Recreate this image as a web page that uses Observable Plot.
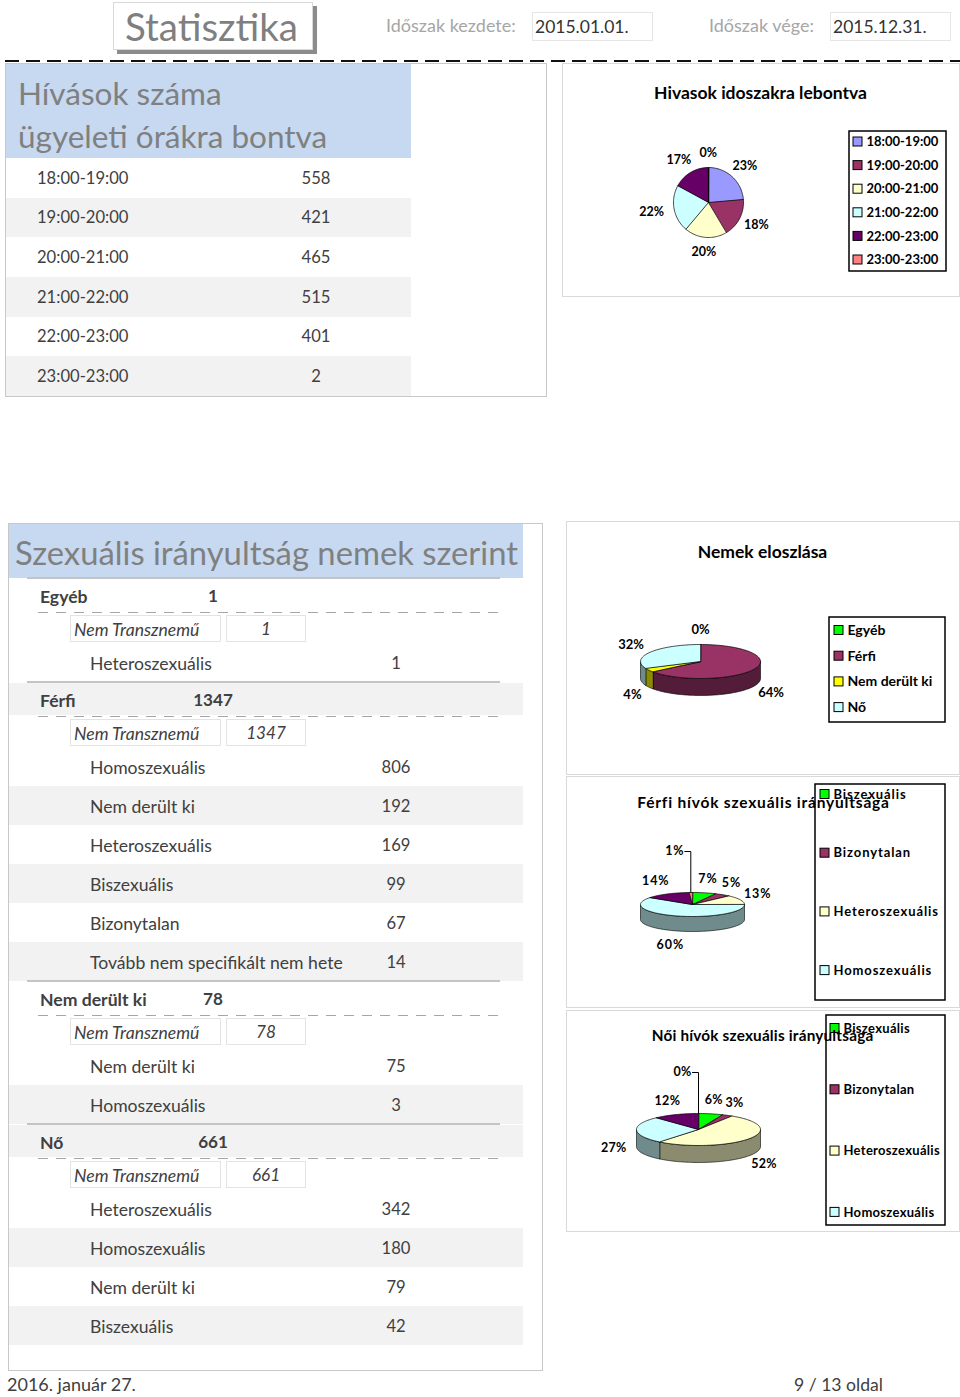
<!DOCTYPE html>
<html><head><meta charset="utf-8">
<script src="https://cdn.jsdelivr.net/npm/d3@7"></script>
<script src="https://cdn.jsdelivr.net/npm/@observablehq/plot@0.6"></script>
<style>
body{margin:0;background:#fff;font-family:Lato,"Open Sans",sans-serif;color:#404040;}
#page{position:relative;width:960px;height:1397px;overflow:hidden;background:#fff;}
</style></head><body><div id="page"></div>
<script>
// ---------------- DATA ----------------
const hourLabels = ["18:00-19:00","19:00-20:00","20:00-21:00","21:00-22:00","22:00-23:00","23:00-23:00"];
const hourCounts = [558,421,465,515,401,2];
const hourPctLabels = ["23%","18%","20%","22%","17%","0%"];
const hourColors = ["#9999ff","#993366","#ffffcc","#ccffff","#660066","#ff8080"];

const genderNames = ["Egyéb","Férfi","Nem derült ki","Nő"];
const genderTotals = [1,1347,78,661];
const genderPctLabels = ["0%","64%","4%","32%"];
const genderColors = ["#00ff00","#993366","#ffff00","#ccffff"];

const subgroupLabel = "Nem Transznemű";
const egyebItems = ["Heteroszexuális"];
const egyebCounts = [1];
const ferfiItems = ["Homoszexuális","Nem derült ki","Heteroszexuális","Biszexuális","Bizonytalan","Tovább nem specifikált nem hete"];
const ferfiCounts = [806,192,169,99,67,14];
const ndkItems = ["Nem derült ki","Homoszexuális"];
const ndkCounts = [75,3];
const noItems = ["Heteroszexuális","Homoszexuális","Nem derült ki","Biszexuális"];
const noCounts = [342,180,79,42];

const orientCats = ["Biszexuális","Bizonytalan","Heteroszexuális","Homoszexuális","Nem derült ki","Tovább nem specifikált"];
const orientColors = ["#00ff00","#993366","#ffffcc","#ccffff","#660066","#ff8080"];
const maleOrient = [99,67,169,806,192,14];
const malePctLabels = ["7%","5%","13%","60%","14%","1%"];
const femaleOrient = [42,18,342,180,79,0];
const femalePctLabels = ["6%","3%","52%","27%","12%","0%"];
const orientLegendCount = 4;

const pageTitle = "Statisztika";
const periodStartLabel = "Időszak kezdete:";
const periodStart = "2015.01.01.";
const periodEndLabel = "Időszak vége:";
const periodEnd = "2015.12.31.";
const footerDate = "2016. január 27.";
const footerPage = "9 / 13 oldal";

// ---------------- HELPERS ----------------
const page = document.getElementById("page");
const LBL = 17.6, NUM = 16.6;
function box(x, y, w, h, css) {
  const d = document.createElement("div");
  d.style.cssText = `position:absolute;left:${x}px;top:${y}px;width:${w}px;height:${h}px;box-sizing:border-box;${css || ""}`;
  page.appendChild(d); return d;
}
function txt(x, cy, s, size, css, anchor) {
  const d = document.createElement("div");
  d.textContent = s;
  const top = cy - 0.6255 * size + 1.5;
  d.style.cssText = `position:absolute;left:${x}px;top:${top}px;font-size:${size}px;line-height:1.2;white-space:nowrap;${css || ""}`;
  if (anchor === "middle") d.style.transform = "translateX(-50%)";
  page.appendChild(d); return d;
}

// ---------------- HEADER ----------------
box(113, 2, 200, 48, "border:1px solid #d9d9d9;background:#fff;box-shadow:4px 4px 0 #8c8c8c;");
txt(125, 26, pageTitle, 38.5, "color:#7f7f7f");
txt(386, 25, periodStartLabel, 18, "color:#a6a6a6");
box(532, 12, 121, 29, "border:1px solid #e6e6e6;");
txt(535, 25, periodStart, 17.5, "color:#333");
txt(709, 25, periodEndLabel, 18, "color:#a6a6a6");
box(830, 12, 121, 29, "border:1px solid #e6e6e6;");
txt(833, 25, periodEnd, 17.5, "color:#333");
{
  const ns = "http://www.w3.org/2000/svg";
  const s = document.createElementNS(ns, "svg");
  s.setAttribute("width", 960); s.setAttribute("height", 10);
  s.style.cssText = "position:absolute;left:0;top:56px;";
  const l = document.createElementNS(ns, "line");
  l.setAttribute("x1", 5); l.setAttribute("x2", 960); l.setAttribute("y1", 5); l.setAttribute("y2", 5);
  l.setAttribute("stroke", "#111"); l.setAttribute("stroke-width", 2); l.setAttribute("stroke-dasharray", "14 7");
  s.appendChild(l); page.appendChild(s);
}

// ---------------- PANEL 1 TABLE ----------------
box(5, 63, 542, 334, "border:1px solid #c8c8c8;");
box(6, 64, 405, 94, "background:#c6d9f1;");
txt(18, 93, "Hívások száma", 31.5, "color:#808080");
txt(18, 136, "ügyeleti órákra bontva", 31.5, "color:#808080");
hourLabels.forEach((lab, i) => {
  const y = 158 + i * 39.67;
  if (i % 2 === 1) box(6, y, 405, 39.67, "background:#f2f2f2;");
  txt(37, y + 19.5, lab, NUM);
  txt(316, y + 19.5, String(hourCounts[i]), NUM, "", "middle");
});

// ---------------- PANEL 2 TABLE ----------------
box(8, 523, 535, 848, "border:1px solid #c8c8c8;");
box(9, 524, 514, 54, "background:#c6d9f1;");
txt(15, 552, "Szexuális irányultság nemek szerint", 32.8, "color:#808080");
const groups = [
  {name: genderNames[0], total: genderTotals[0], items: egyebItems, counts: egyebCounts},
  {name: genderNames[1], total: genderTotals[1], items: ferfiItems, counts: ferfiCounts},
  {name: genderNames[2], total: genderTotals[2], items: ndkItems, counts: ndkCounts},
  {name: genderNames[3], total: genderTotals[3], items: noItems, counts: noCounts}
];
let y0 = 578;
groups.forEach((g, gi) => {
  if (gi % 2 === 1) box(9, y0 + 1, 514, 32, "background:#f2f2f2;");
  box(27, y0 - 1, 473, 2, "background:#c4c4c4;");
  txt(40, y0 + 17.5, g.name, LBL, "font-weight:bold;");
  txt(213, y0 + 17.5, String(g.total), NUM + 0.5, "font-weight:bold;", "middle");
  box(38, y0 + 34, 465, 1, "background:repeating-linear-gradient(to right,#a6a6a6 0 10px,transparent 10px 18px);");
  box(70, y0 + 37, 151, 27, "border:1px solid #e3e3e3;");
  box(226, y0 + 37, 80, 27, "border:1px solid #e3e3e3;");
  txt(74, y0 + 50.5, subgroupLabel, LBL, "font-style:italic;");
  txt(266, y0 + 50.5, String(g.total), NUM + 0.5, "font-style:italic;", "middle");
  g.items.forEach((lab, j) => {
    const ry = y0 + 65 + 39 * j;
    if (j % 2 === 1) box(9, ry, 514, 39, "background:#f2f2f2;");
    txt(90, ry + 19.5, lab, LBL);
    txt(396, ry + 19.5, String(g.counts[j]), NUM, "", "middle");
  });
  y0 += 65 + 39 * g.items.length;
});

// ---------------- FOOTER ----------------
txt(7, 1384, footerDate, 18);
txt(794, 1384, footerPage, 17.6);

// ---------------- PIES ----------------
function piePanel(cfg) {
  const {left, top, w, h, title, titleX, titleY, titleSize, values, colors, labels,
    cx, cy, rx, ry, depth, gap, labelSize, leaderIdx, legendKeys, legendColors,
    legendBox, ly0, lstep, sqX, legendSize, letterSpacing, titleSpacing} = cfg;
  box(left, top, w, h, "border:1px solid #d9d9d9;");
  const arcs = d3.pie().sort(null).value(v => v)(values);
  const P = a => [cx + rx * Math.sin(a), cy - ry * Math.cos(a)];
  const tops = [], walls = [], labs = [], leaders = [];
  arcs.forEach((a, i) => {
    const a0 = a.startAngle, a1 = a.endAngle;
    if (a1 - a0 > 0) {
      const n = Math.max(2, Math.ceil((a1 - a0) / (Math.PI / 90)));
      tops.push({id: i, x: cx, y: cy, c: colors[i]});
      for (let k = 0; k <= n; k++) {
        const [x, y] = P(a0 + (a1 - a0) * k / n);
        tops.push({id: i, x, y, c: colors[i]});
      }
      if (depth > 0) {
        const b0 = Math.max(a0, Math.PI / 2), b1 = Math.min(a1, 3 * Math.PI / 2);
        if (b1 > b0) {
          const m = Math.max(2, Math.ceil((b1 - b0) / (Math.PI / 90)));
          const wc = d3.rgb(colors[i]).darker(1.7).formatHex();
          const pts = [];
          for (let k = 0; k <= m; k++) pts.push(P(b0 + (b1 - b0) * k / m));
          pts.forEach(([x, y]) => walls.push({id: i, x, y, c: wc}));
          pts.slice().reverse().forEach(([x, y]) => walls.push({id: i, x, y: y + depth, c: wc}));
        }
      }
    }
    const mid = (a0 + a1) / 2, s = Math.sin(mid), c = Math.cos(mid);
    if (i === leaderIdx) {
      const [px, py] = P(mid);
      const lx = px - 16, ly = py - 42;
      labs.push({x: lx, y: ly, t: labels[i]});
      leaders.push({x: lx + 10, y: ly + 1}, {x: px, y: ly + 1}, {x: px, y: py});
    } else {
      const hw = labels[i].length * 3.6 + (s < 0 ? 4 : 0), hh = 6.5;
      labs.push({
        x: cx + (rx + gap) * s + hw * s,
        y: cy - (ry + gap) * c - hh * c + (c < 0 ? depth : 0),
        t: labels[i]
      });
    }
  });
  const legend = legendKeys.map((k, i) => ({k, c: legendColors[i], y: ly0 + i * lstep}));
  const [bx1, by1, bx2, by2] = legendBox;
  const plot = Plot.plot({
    width: w, height: h, margin: 0,
    x: {domain: [0, w], range: [0, w], axis: null},
    y: {domain: [0, h], range: [0, h], axis: null},
    color: {type: "identity"},
    style: {fontFamily: "Lato, sans-serif", background: "transparent", overflow: "visible", letterSpacing: letterSpacing || "0px"},
    marks: [
      Plot.rect([legendBox], {x1: () => bx1, x2: () => bx2, y1: () => by1, y2: () => by2, fill: "white", stroke: "black", strokeWidth: 1.5}),
      Plot.line(walls, {x: "x", y: "y", z: "id", fill: "c", stroke: "black", strokeWidth: 0.6, curve: "linear-closed"}),
      Plot.line(tops, {x: "x", y: "y", z: "id", fill: "c", stroke: "black", strokeWidth: 0.7, curve: "linear-closed"}),
      Plot.line(leaders, {x: "x", y: "y", stroke: "black", strokeWidth: 1}),
      Plot.text(labs, {x: "x", y: "y", text: "t", fontSize: labelSize, fontWeight: "bold", fill: "black", lineAnchor: "middle"}),
      Plot.rect(legend, {x1: () => sqX, x2: () => sqX + 9, y1: d => d.y - 4.5, y2: d => d.y + 4.5, fill: "c", stroke: "black", strokeWidth: 1}),
      Plot.text(legend, {x: () => sqX + 13, y: "y", text: "k", textAnchor: "start", lineAnchor: "middle", fontSize: legendSize, fontWeight: "bold", fill: "black"}),
      Plot.text([title], {x: () => titleX, y: () => titleY, text: d => d, fontSize: titleSize, fontWeight: "bold", fill: "black", lineAnchor: "middle"})
    ]
  });
  plot.style.position = "absolute";
  plot.style.left = left + "px";
  plot.style.top = top + "px";
  page.appendChild(plot);
  if (titleSpacing) {
    const t = plot.querySelectorAll("text");
    t[t.length - 1].style.letterSpacing = titleSpacing;
  }
}

piePanel({
  left: 562, top: 63, w: 398, h: 234,
  title: "Hivasok idoszakra lebontva", titleX: 198, titleY: 30, titleSize: 17.5,
  values: hourCounts, colors: hourColors, labels: hourPctLabels,
  cx: 146, cy: 139, rx: 35, ry: 35, depth: 0, gap: 8, labelSize: 12.5, leaderIdx: -1,
  legendKeys: hourLabels, legendColors: hourColors, legendBox: [287, 68, 384, 208],
  ly0: 78.5, lstep: 23.6, sqX: 291, legendSize: 13
});
piePanel({
  left: 566, top: 521, w: 394, h: 254,
  title: "Nemek eloszlása", titleX: 196, titleY: 31, titleSize: 17.5,
  values: genderTotals, colors: genderColors, labels: genderPctLabels,
  cx: 134, cy: 140, rx: 60, ry: 17, depth: 17, gap: 8, labelSize: 13, leaderIdx: -1,
  legendKeys: genderNames, legendColors: genderColors, legendBox: [263, 96, 379, 201],
  ly0: 109, lstep: 25.7, sqX: 268, legendSize: 14
});
piePanel({
  left: 566, top: 776, w: 394, h: 232,
  title: "Férfi hívók szexuális irányultsága", titleX: 197, titleY: 27, titleSize: 15.5,
  values: maleOrient, colors: orientColors, labels: malePctLabels,
  cx: 126, cy: 128, rx: 52, ry: 12, depth: 15, gap: 8, labelSize: 12.5, leaderIdx: 5,
  legendKeys: orientCats.slice(0, orientLegendCount), legendColors: orientColors.slice(0, orientLegendCount),
  legendBox: [249, 8, 379, 224], ly0: 18, lstep: 58.7, sqX: 254, legendSize: 13, letterSpacing: "0.9px", titleSpacing: "0.8px"
});
piePanel({
  left: 566, top: 1010, w: 394, h: 222,
  title: "Női hívók szexuális irányultsága", titleX: 196, titleY: 26, titleSize: 15.3,
  values: femaleOrient, colors: orientColors, labels: femalePctLabels,
  cx: 132, cy: 119, rx: 62, ry: 16, depth: 17, gap: 8, labelSize: 12.5, leaderIdx: 5,
  legendKeys: orientCats.slice(0, orientLegendCount), legendColors: orientColors.slice(0, orientLegendCount),
  legendBox: [260, 5, 379, 215], ly0: 18, lstep: 61.3, sqX: 264, legendSize: 13, letterSpacing: "0.3px", titleSpacing: "0.2px"
});
</script></body></html>
